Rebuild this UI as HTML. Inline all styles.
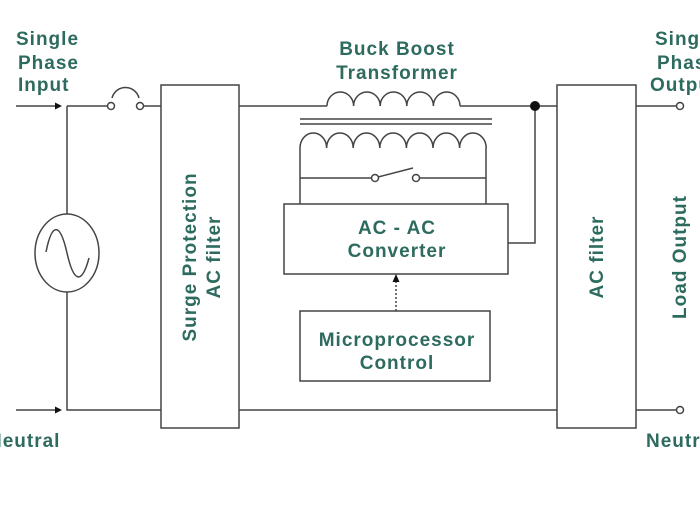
<!DOCTYPE html>
<html><head><style>
body{margin:0;background:#fff}
svg text{font-family:"Liberation Sans",sans-serif;font-weight:bold;fill:#2e6b5f;font-size:19px;letter-spacing:1px}
</style></head><body>
<svg width="700" height="500" viewBox="0 0 700 500" xmlns="http://www.w3.org/2000/svg">
<g stroke="#444" stroke-width="1.5" fill="none">
<line x1="16" y1="106" x2="56" y2="106"/>
<line x1="16" y1="410" x2="56" y2="410"/>
<polyline points="67,106 67,214"/>
<polyline points="67,292 67,410 161,410"/>
<line x1="67" y1="106" x2="107" y2="106"/>
<ellipse cx="67" cy="253" rx="32" ry="39"/>
<path d="M46,252 C52,222 60,222 67,253 C74,284 82,284 89,258"/>
<circle cx="111" cy="106" r="3.5" fill="#fff"/>
<circle cx="140" cy="106" r="3.5" fill="#fff"/>
<path d="M112,98 C116,84 135,84 139,98"/>
<line x1="143.5" y1="106" x2="161" y2="106"/>
<rect x="161" y="85" width="78" height="343"/>
<line x1="239" y1="106" x2="327" y2="106"/>
<path d="M327,106 a13.3,14 0 0 1 26.6,0 a13.3,14 0 0 1 26.6,0 a13.3,14 0 0 1 26.6,0 a13.3,14 0 0 1 26.6,0 a13.3,14 0 0 1 26.6,0"/>
<line x1="460" y1="106" x2="557" y2="106"/>
<line x1="239" y1="410" x2="557" y2="410"/>
<line x1="300" y1="119" x2="492" y2="119"/>
<line x1="300" y1="124" x2="492" y2="124"/>
<path d="M300,148 a13.3,15 0 0 1 26.6,0 a13.3,15 0 0 1 26.6,0 a13.3,15 0 0 1 26.6,0 a13.3,15 0 0 1 26.6,0 a13.3,15 0 0 1 26.6,0 a13.3,15 0 0 1 26.6,0 a13.3,15 0 0 1 26.6,0"/>
<line x1="300" y1="148" x2="300" y2="204"/>
<line x1="486" y1="148" x2="486" y2="204"/>
<line x1="300" y1="178" x2="371" y2="178"/>
<line x1="420" y1="178" x2="486" y2="178"/>
<line x1="378" y1="177" x2="413" y2="168"/>
<circle cx="375" cy="178" r="3.5" fill="#fff"/>
<circle cx="416" cy="178" r="3.5" fill="#fff"/>
<rect x="284" y="204" width="224" height="70"/>
<polyline points="508,243 535,243 535,106"/>
<rect x="300" y="311" width="190" height="70"/>
<line x1="396" y1="311" x2="396" y2="282" stroke-dasharray="2,2"/>
<rect x="557" y="85" width="79" height="343"/>
<line x1="636" y1="106" x2="676" y2="106"/>
<line x1="636" y1="410" x2="676" y2="410"/>
<circle cx="680" cy="106" r="3.5" fill="#fff"/>
<circle cx="680" cy="410" r="3.5" fill="#fff"/>
</g>
<g fill="#111">
<polygon points="62,106 55,102.5 55,109.5"/>
<polygon points="62,410 55,406.5 55,413.5"/>
<polygon points="396,274 392.5,282 399.5,282"/>
<circle cx="535" cy="106" r="5"/>
</g>
<text x="16" y="45">Single</text>
<text x="18" y="69">Phase</text>
<text x="18" y="91">Input</text>
<text x="-12" y="447">Neutral</text>
<text x="397" y="55" text-anchor="middle">Buck Boost</text>
<text x="397" y="79" text-anchor="middle">Transformer</text>
<text x="397" y="234" text-anchor="middle">AC - AC</text>
<text x="397" y="257" text-anchor="middle">Converter</text>
<text x="397" y="346" text-anchor="middle">Microprocessor</text>
<text x="397" y="369" text-anchor="middle">Control</text>
<text x="655" y="45">Single</text>
<text x="657" y="69">Phase</text>
<text x="650" y="91">Output</text>
<text x="646" y="447">Neutral</text>
<text transform="translate(196,257) rotate(-90)" text-anchor="middle">Surge Protection</text>
<text transform="translate(220,257) rotate(-90)" text-anchor="middle">AC filter</text>
<text transform="translate(603,257) rotate(-90)" text-anchor="middle">AC filter</text>
<text transform="translate(686,257) rotate(-90)" text-anchor="middle">Load Output</text>
</svg>
</body></html>
